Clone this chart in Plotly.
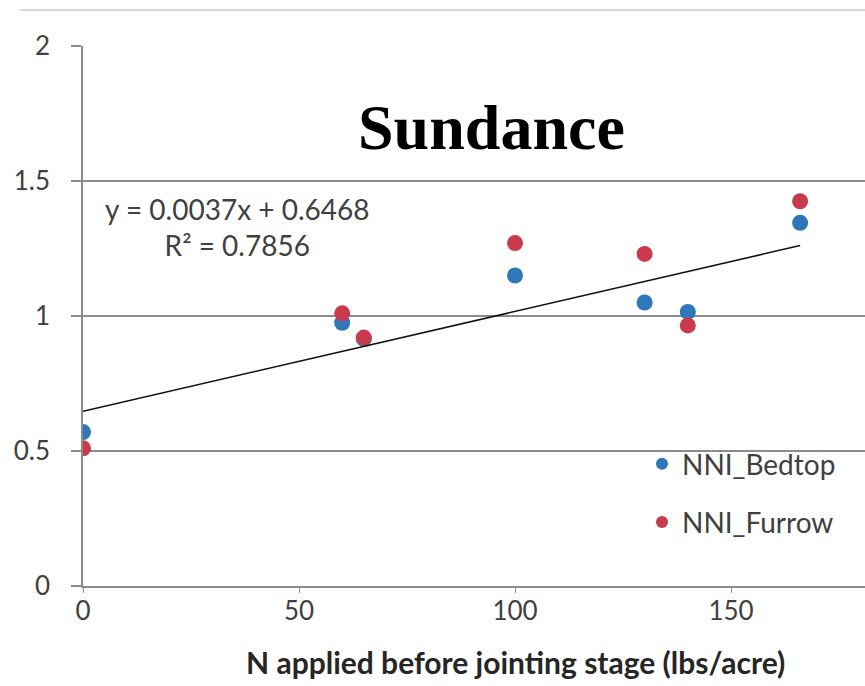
import plotly.graph_objects as go

# N applied before jointing stage (lbs/acre) and nitrogen nutrition index
n_applied = [0, 60, 65, 100, 130, 140, 166]
nni_bedtop = [0.57, 0.975, 0.915, 1.15, 1.05, 1.015, 1.345]
nni_furrow = [0.51, 1.01, 0.92, 1.27, 1.23, 0.965, 1.425]

# Linear trendline fitted to the bedtop series
trend_slope = 0.0037
trend_intercept = 0.6468
trend_r2 = 0.7856

x_ticks = [0, 50, 100, 150, 200]
y_ticks = [0, 0.5, 1, 1.5, 2]

FONT = "Lato"
TXT = "#404040"
GRID = "#8c8c8c"

trend_x = [min(n_applied), max(n_applied)]
trend_y = [trend_slope * v + trend_intercept for v in trend_x]

fig = go.Figure()
fig.add_trace(go.Scatter(
    x=n_applied, y=nni_bedtop, mode="markers", name="NNI_Bedtop",
    legendgroup="a",
    marker=dict(color="#2f77b8", size=16, line=dict(width=0)),
))
fig.add_trace(go.Scatter(
    x=n_applied, y=nni_furrow, mode="markers", name="NNI_Furrow",
    legendgroup="b",
    marker=dict(color="#c83a4c", size=16, line=dict(width=0)),
))
fig.add_trace(go.Scatter(
    x=trend_x, y=trend_y, mode="lines", showlegend=False,
    line=dict(color="#111111", width=1.5),
))

fig.update_layout(
    width=865, height=686,
    margin=dict(l=83, r=0, t=46, b=100),
    paper_bgcolor="white", plot_bgcolor="white",
    font=dict(family=FONT, color=TXT, size=26),
    showlegend=True,
    legend=dict(
        x=(642 - 83) / 782, y=(586 - 493) / 540, xanchor="left", yanchor="middle",
        bgcolor="rgba(0,0,0,0)", font=dict(size=28, color=TXT),
        tracegroupgap=19, itemsizing="constant", itemwidth=30,
    ),
    xaxis=dict(
        range=[0, 782 / 4.32], tickvals=x_ticks, showgrid=False,
        showline=True, linecolor=GRID, linewidth=1.5,
        ticks="outside", ticklen=5, tickcolor=GRID, tickwidth=1,
        tickfont=dict(size=26, color=TXT), zeroline=False,
        ticklabelstandoff=-4,
    ),
    yaxis=dict(
        range=[0, 2], tickvals=y_ticks, showgrid=True, gridcolor=GRID,
        gridwidth=1.5, showline=True, linecolor=GRID, linewidth=1.5,
        ticks="outside", ticklen=10, tickcolor=GRID, tickwidth=1.5,
        tickfont=dict(size=26, color=TXT), zeroline=False,
        ticklabelstandoff=16,
    ),
    shapes=[dict(
        type="line", xref="paper", yref="paper",
        x0=-0.08, x1=1.0, y0=(586 - 10) / 540, y1=(586 - 10) / 540,
        line=dict(color="#c8c8c8", width=1.5),
    )],
    annotations=[
        dict(text="<b>Sundance</b>", xref="paper", yref="paper",
             x=(492 - 83) / 782, y=(586 - 127) / 540, showarrow=False,
             xanchor="center", yanchor="middle",
             font=dict(family="Liberation Serif", size=64, color="black")),
        dict(text=f"y = {trend_slope}x + {trend_intercept}<br>R² = {trend_r2}",
             xref="paper", yref="paper", x=(237 - 83) / 782,
             y=(586 - 227) / 540, showarrow=False, align="center",
             xanchor="center", yanchor="middle",
             font=dict(size=28, color=TXT)),
        dict(text="<b>N applied before jointing stage (lbs/acre)</b>",
             xref="x", yref="paper", x=100, y=(586 - 662) / 540,
             xanchor="center", yanchor="middle",
             showarrow=False, font=dict(size=30, color="#262626")),
    ],
)

fig.write_html("out.html")
